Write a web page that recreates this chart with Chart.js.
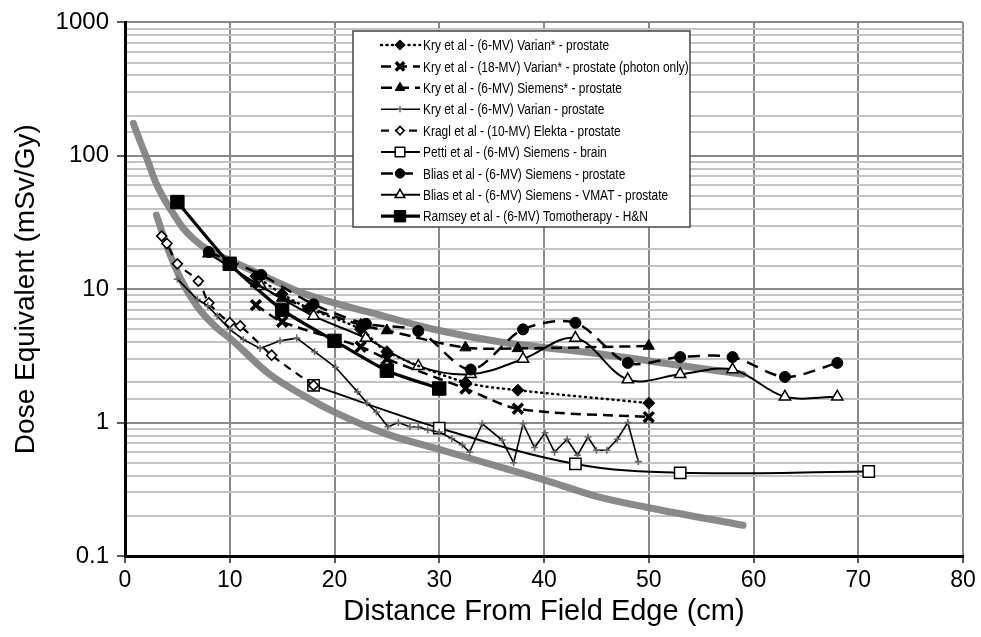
<!DOCTYPE html>
<html><head><meta charset="utf-8">
<script src="https://cdn.jsdelivr.net/npm/chart.js@4.4.0/dist/chart.umd.min.js"></script>
<style>html,body{margin:0;padding:0;background:#fff}#wrap{width:981px;height:637px;position:relative}</style>
</head><body><div id="wrap"><canvas id="c" width="981" height="637"></canvas></div>
<script>
// ---- axis definitions ----
const xTickValues = [0, 10, 20, 30, 40, 50, 60, 70, 80];
const yTickLabels = [0.1, 1, 10, 100, 1000];
const xTitle = 'Distance From Field Edge (cm)';
const yTitle = 'Dose Equivalent (mSv/Gy)';

// ---- series data ----
const kryVarian6StarX = [12.5, 15, 17.5, 22.5, 25, 32.5, 37.5, 50];
const kryVarian6StarY = [12.5, 9.2, 7.2, 5.0, 3.4, 2.0, 1.75, 1.4];

const kryVarian18StarX = [12.5, 15, 22.5, 25, 32.5, 37.5, 50];
const kryVarian18StarY = [7.6, 5.7, 3.7, 3.0, 1.8, 1.27, 1.1];

const krySiemens6StarX = [12.5, 15, 22.5, 25, 32.5, 37.5, 50];
const krySiemens6StarY = [11, 8.6, 5.4, 4.9, 3.65, 3.6, 3.75];

const kryVarian6X = [5, 6.9, 7.9, 8.8, 10, 11.3, 12.9, 14.8, 16.4, 18.1, 20.1, 22.2, 23.1, 24, 25.1, 26.1, 27.2, 28, 28.9, 30, 31.2, 32.2, 32.9, 34.1, 36, 37.1, 38, 39.1, 40.1, 41, 42.2, 43.2, 44.2, 45, 46, 47, 48, 49];
const kryVarian6Y = [11.9, 8.4, 7.5, 6.3, 5.0, 4.2, 3.6, 4.1, 4.3, 3.4, 2.6, 1.7, 1.4, 1.2, 0.93, 1.0, 0.93, 0.93, 0.88, 0.85, 0.76, 0.68, 0.6, 0.98, 0.74, 0.5, 0.98, 0.65, 0.84, 0.6, 0.75, 0.57, 0.78, 0.62, 0.62, 0.75, 1.0, 0.51];

const kraglX = [3.5, 4, 5, 7, 8, 10, 11, 14, 18];
const kraglY = [25, 22, 15.5, 11.5, 7.9, 5.6, 5.3, 3.2, 1.9];

const pettiX = [18, 30, 43, 53, 71];
const pettiY = [1.9, 0.91, 0.49, 0.42, 0.43];

const bliasProstateX = [8, 13, 18, 23, 28, 33, 38, 43, 48, 53, 58, 63, 68];
const bliasProstateY = [19, 12.8, 7.7, 5.5, 4.86, 2.5, 5.0, 5.6, 2.8, 3.1, 3.1, 2.2, 2.8];

const bliasVmatX = [8, 13, 18, 23, 28, 33, 38, 43, 48, 53, 58, 63, 68];
const bliasVmatY = [18.5, 10.5, 6.3, 4.3, 2.65, 2.3, 3.0, 4.3, 2.1, 2.3, 2.5, 1.56, 1.56];

const ramseyX = [5, 10, 15, 20, 25, 30];
const ramseyY = [45, 15.5, 7, 4.1, 2.45, 1.8];

const upperBandX = [0.8, 1.5, 2.1, 2.9, 3.7, 4.6, 5.5, 6.5, 8, 10, 13.8, 17, 24, 30, 36, 45, 50, 59];
const upperBandY = [175, 125, 95, 64, 48, 37, 29, 24, 19.5, 16.5, 12, 9.3, 6.5, 4.9, 4.0, 3.3, 2.9, 2.3];

const lowerBandX = [3, 4, 5.3, 6.9, 8.8, 10, 13.8, 17, 20, 25, 30, 36, 40.6, 45, 50, 59];
const lowerBandY = [36, 21, 12, 7.4, 5.1, 4.3, 2.3, 1.6, 1.2, 0.82, 0.63, 0.46, 0.36, 0.28, 0.23, 0.17];

const labels = [
  'Kry et al - (6-MV) Varian* - prostate',
  'Kry et al - (18-MV) Varian* - prostate (photon only)',
  'Kry et al - (6-MV) Siemens* - prostate',
  'Kry et al - (6-MV) Varian - prostate',
  'Kragl et al - (10-MV) Elekta - prostate',
  'Petti et al - (6-MV) Siemens - brain',
  'Blias et al - (6-MV) Siemens - prostate',
  'Blias et al - (6-MV) Siemens - VMAT - prostate',
  'Ramsey et al - (6-MV) Tomotherapy - H&N'
];

function pts(xs, ys) { return xs.map((x, i) => ({ x: x, y: ys[i] })); }

const datasets = [
  { label: labels[0], data: pts(kryVarian6StarX, kryVarian6StarY), borderColor: '#000', borderWidth: 2.5, borderDash: [1, 4.5], borderCapStyle: 'round',
    pointStyle: 'rectRot', pointRadius: 6, pointBackgroundColor: '#000', pointBorderColor: '#000', pointBorderWidth: 1, tension: 0.3, inLegend: true },
  { label: labels[1], data: pts(kryVarian18StarX, kryVarian18StarY), borderColor: '#000', borderWidth: 2.5, borderDash: [10, 6],
    pointStyle: 'crossRot', pointRadius: 7, pointBackgroundColor: '#000', pointBorderColor: '#000', pointBorderWidth: 3.5, tension: 0.3, inLegend: true },
  { label: labels[2], data: pts(krySiemens6StarX, krySiemens6StarY), borderColor: '#000', borderWidth: 2.5, borderDash: [11, 6],
    pointStyle: 'triangle', pointRadius: 6.5, pointBackgroundColor: '#000', pointBorderColor: '#000', pointBorderWidth: 1, tension: 0.3, inLegend: true },
  { label: labels[3], data: pts(kryVarian6X, kryVarian6Y), borderColor: '#000', borderWidth: 1.6,
    pointStyle: 'cross', pointRadius: 3.5, pointBackgroundColor: '#555', pointBorderColor: '#666', pointBorderWidth: 1.6, tension: 0, inLegend: true },
  { label: labels[4], data: pts(kraglX, kraglY), borderColor: '#000', borderWidth: 2.2, borderDash: [8, 6],
    pointStyle: 'rectRot', pointRadius: 5, pointBackgroundColor: '#fff', pointBorderColor: '#000', pointBorderWidth: 1.6, tension: 0.3, inLegend: true },
  { label: labels[5], data: pts(pettiX, pettiY), borderColor: '#000', borderWidth: 2,
    pointStyle: 'rect', pointRadius: 8, pointBackgroundColor: '#fff', pointBorderColor: '#000', pointBorderWidth: 1.5, tension: 0.35, inLegend: true },
  { label: labels[6], data: pts(bliasProstateX, bliasProstateY), borderColor: '#000', borderWidth: 2.5, borderDash: [12, 8],
    pointStyle: 'circle', pointRadius: 5.5, pointBackgroundColor: '#000', pointBorderColor: '#000', pointBorderWidth: 1, tension: 0.3, inLegend: true },
  { label: labels[7], data: pts(bliasVmatX, bliasVmatY), borderColor: '#000', borderWidth: 2,
    pointStyle: 'triangle', pointRadius: 6.5, pointBackgroundColor: '#fff', pointBorderColor: '#000', pointBorderWidth: 1.5, tension: 0.35, inLegend: true },
  { label: labels[8], data: pts(ramseyX, ramseyY), borderColor: '#000', borderWidth: 3.2,
    pointStyle: 'rect', pointRadius: 9.5, pointBackgroundColor: '#000', pointBorderColor: '#000', pointBorderWidth: 1, tension: 0.2, inLegend: true },
  { label: 'upper', data: pts(upperBandX, upperBandY), borderColor: 'rgba(128,128,128,0.92)', borderWidth: 7, borderCapStyle: 'round',
    pointRadius: 0, cubicInterpolationMode: 'monotone', inLegend: false },
  { label: 'lower', data: pts(lowerBandX, lowerBandY), borderColor: 'rgba(128,128,128,0.92)', borderWidth: 7, borderCapStyle: 'round',
    pointRadius: 0, cubicInterpolationMode: 'monotone', inLegend: false }
];

function isDecade(v) {
  const l = Math.log10(v);
  return Math.abs(l - Math.round(l)) < 1e-9;
}

const FONT = '"Liberation Sans", Arial, sans-serif';

const boxLegend = {
  id: 'boxLegend',
  afterDraw(chart) {
    const ctx = chart.ctx;
    const bx = 353, by = 31, bw = 337, bh = 196;
    ctx.save();
    ctx.setLineDash([]);
    ctx.fillStyle = '#fff';
    ctx.fillRect(bx, by, bw, bh);
    ctx.strokeStyle = '#444';
    ctx.lineWidth = 1.5;
    ctx.strokeRect(bx, by, bw, bh);
    const items = chart.data.datasets.filter(d => d.inLegend);
    items.forEach((d, i) => {
      const cy = by + 14 + i * 21.4;
      ctx.save();
      ctx.strokeStyle = d.borderColor;
      ctx.lineWidth = d.borderWidth;
      ctx.lineCap = d.borderCapStyle || 'butt';
      ctx.setLineDash(d.borderDash || []);
      ctx.beginPath();
      ctx.moveTo(381, cy);
      ctx.lineTo(420, cy);
      ctx.stroke();
      ctx.restore();
      ctx.save();
      ctx.setLineDash([]);
      ctx.fillStyle = d.pointBackgroundColor;
      ctx.strokeStyle = d.pointBorderColor;
      ctx.lineWidth = d.pointBorderWidth;
      const r = d.pointRadius * 0.85;
      if (Chart.helpers && Chart.helpers.drawPoint) {
        Chart.helpers.drawPoint(ctx, { pointStyle: d.pointStyle, radius: r, rotation: 0, borderWidth: d.pointBorderWidth }, 400, cy);
      }
      ctx.restore();
      ctx.save();
      ctx.fillStyle = '#000';
      ctx.font = '15.5px ' + FONT;
      ctx.textBaseline = 'middle';
      ctx.textAlign = 'left';
      ctx.translate(423, cy + 1);
      ctx.scale(0.77, 1);
      ctx.fillText(d.label, 0, 0);
      ctx.restore();
    });
    ctx.restore();
  }
};

new Chart(document.getElementById('c'), {
  type: 'line',
  data: { datasets: datasets },
  options: {
    responsive: false,
    animation: false,
    devicePixelRatio: 1,
    layout: { padding: { left: 0, right: 18, top: 20, bottom: 0 } },
    plugins: { legend: { display: false }, tooltip: { enabled: false } },
    scales: {
      x: {
        type: 'linear', min: 0, max: 80,
        afterBuildTicks(scale) { scale.ticks = xTickValues.map(v => ({ value: v })); },
        afterFit(scale) { scale.height = 81; },
        ticks: { color: '#000', font: { family: FONT, size: 23 }, padding: 4, maxRotation: 0, autoSkip: false },
        grid: { color: '#8a8a8a', lineWidth: 2, tickLength: 7, tickColor: '#222', tickWidth: 1.5 },
        border: { color: '#000', width: 3 },
        title: { display: true, text: xTitle, color: '#000', font: { family: FONT, size: 29 }, padding: { top: 0, bottom: 8 } }
      },
      y: {
        type: 'logarithmic', min: 0.1, max: 1000,
        afterFit(scale) { scale.width = 125; },
        ticks: {
          color: '#000', autoSkip: false, padding: 8,
          font: { family: FONT, size: 24 },
          callback(v) {
            if (!isDecade(v)) return '';
            const m = yTickLabels.find(t => Math.abs(t - v) / t < 1e-6);
            return m === undefined ? '' : String(m);
          }
        },
        grid: {
          color: ctx => (ctx.tick && isDecade(ctx.tick.value)) ? '#8a8a8a' : '#c4c4c4',
          lineWidth: 2,
          tickLength: 8,
          tickColor: ctx => (ctx.tick && isDecade(ctx.tick.value)) ? '#222' : 'rgba(0,0,0,0)',
          tickWidth: 1.5
        },
        border: { color: '#000', width: 3 },
        title: { display: true, text: yTitle, color: '#000', font: { family: FONT, size: 28 }, padding: { top: 9, bottom: 0 } }
      }
    }
  },
  plugins: [boxLegend]
});
</script>
</body></html>
